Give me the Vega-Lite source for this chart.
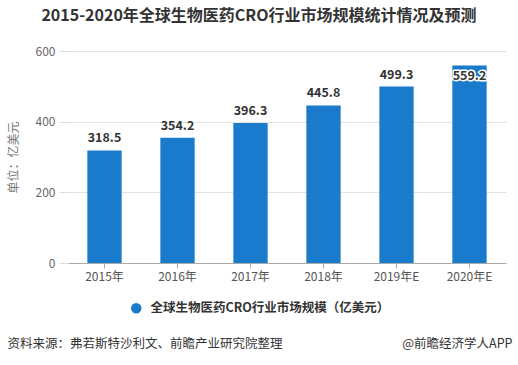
{
  "$schema": "https://vega.github.io/schema/vega-lite/v6.json",
  "autosize": "none",
  "width": 438,
  "height": 212,
  "padding": {"left": 68, "top": 51, "right": 12, "bottom": 102},
  "background": "white",
  "config": {
    "font": "Noto Sans CJK SC",
    "view": {"stroke": null}
  },
  "title": {
    "text": "2015-2020年全球生物医药CRO行业市场规模统计情况及预测",
    "fontSize": 16,
    "fontWeight": "bold",
    "color": "#333333",
    "anchor": "middle",
    "dx": -28,
    "offset": 21
  },
  "data": {
    "values": [
      {"year": "2015年", "value": 318.5, "series": "全球生物医药CRO行业市场规模（亿美元）"},
      {"year": "2016年", "value": 354.2, "series": "全球生物医药CRO行业市场规模（亿美元）"},
      {"year": "2017年", "value": 396.3, "series": "全球生物医药CRO行业市场规模（亿美元）"},
      {"year": "2018年", "value": 445.8, "series": "全球生物医药CRO行业市场规模（亿美元）"},
      {"year": "2019年E", "value": 499.3, "series": "全球生物医药CRO行业市场规模（亿美元）"},
      {"year": "2020年E", "value": 559.2, "series": "全球生物医药CRO行业市场规模（亿美元）"}
    ]
  },
  "encoding": {
    "x": {
      "field": "year",
      "type": "nominal",
      "sort": null,
      "scale": {"paddingInner": 0.53, "paddingOuter": 0.265},
      "axis": {
        "title": "资料来源：弗若斯特沙利文、前瞻产业研究院整理",
        "titleX": -61,
        "titleY": 80,
        "titleAlign": "left",
        "titleBaseline": "middle",
        "titleFontSize": 12.5,
        "titleFontWeight": "normal",
        "titleColor": "#333333",
        "labelAngle": 0,
        "labelFontSize": 12,
        "labelColor": "#555555",
        "labelPadding": 3,
        "domainColor": "#aaaaaa",
        "tickColor": "#aaaaaa",
        "tickSize": 5
      }
    }
  },
  "layer": [
    {
      "mark": {"type": "bar"},
      "encoding": {
        "y": {
          "field": "value",
          "type": "quantitative",
          "scale": {"domain": [0, 600]},
          "axis": {
            "title": "单位：亿美元",
            "titleX": -48,
            "titleFontSize": 12,
            "titleFontWeight": "normal",
            "titleColor": "#777777",
            "values": [0, 200, 400, 600],
            "labelFontSize": 12,
            "labelColor": "#666666",
            "labelPadding": 4,
            "domain": false,
            "tickColor": "#dddddd",
            "tickSize": 9,
            "gridColor": "#e2e2e2"
          }
        },
        "color": {
          "field": "series",
          "type": "nominal",
          "scale": {"range": ["#1a7acb"]},
          "legend": {
            "title": null,
            "orient": "none",
            "legendX": 62,
            "legendY": 251,
            "symbolType": "circle",
            "symbolSize": 110,
            "labelFontSize": 12.5,
            "labelFontWeight": "bold",
            "labelColor": "#333333",
            "labelOffset": 8,
            "labelLimit": 0
          }
        }
      }
    },
    {
      "transform": [{"filter": "datum.value < 550"}],
      "mark": {"type": "text", "baseline": "bottom", "dy": -5, "fontSize": 12.5, "fontWeight": "bold", "color": "#333333"},
      "encoding": {
        "y": {"field": "value", "type": "quantitative", "scale": {"domain": [0, 600]}, "axis": null},
        "text": {"field": "value", "type": "quantitative", "format": ".1f"}
      }
    },
    {
      "transform": [{"filter": "datum.value >= 550"}],
      "mark": {"type": "text", "baseline": "middle", "dy": 11, "fontSize": 12.5, "fontWeight": "bold", "color": "#333333", "stroke": "white", "strokeWidth": 3, "strokeJoin": "round"},
      "encoding": {
        "y": {"field": "value", "type": "quantitative", "scale": {"domain": [0, 600]}, "axis": null},
        "text": {"field": "value", "type": "quantitative", "format": ".1f"}
      }
    },
    {
      "transform": [{"filter": "datum.value >= 550"}],
      "mark": {"type": "text", "baseline": "middle", "dy": 11, "fontSize": 12.5, "fontWeight": "bold", "color": "#333333"},
      "encoding": {
        "y": {"field": "value", "type": "quantitative", "scale": {"domain": [0, 600]}, "axis": null},
        "text": {"field": "value", "type": "quantitative", "format": ".1f"}
      }
    },
    {
      "mark": {"type": "bar", "opacity": 0},
      "encoding": {
        "y": {
          "field": "value",
          "type": "quantitative",
          "scale": {"domain": [0, 600]},
          "axis": {
            "orient": "right",
            "title": "@前瞻经济学人APP",
            "titleAngle": 0,
            "titleX": 6,
            "titleY": 292,
            "titleAlign": "right",
            "titleBaseline": "middle",
            "titleFontSize": 12.5,
            "titleFontWeight": "normal",
            "titleColor": "#333333",
            "labels": false,
            "ticks": false,
            "domain": false,
            "grid": false
          }
        }
      }
    }
  ],
  "resolve": {"scale": {"y": "independent"}}
}
